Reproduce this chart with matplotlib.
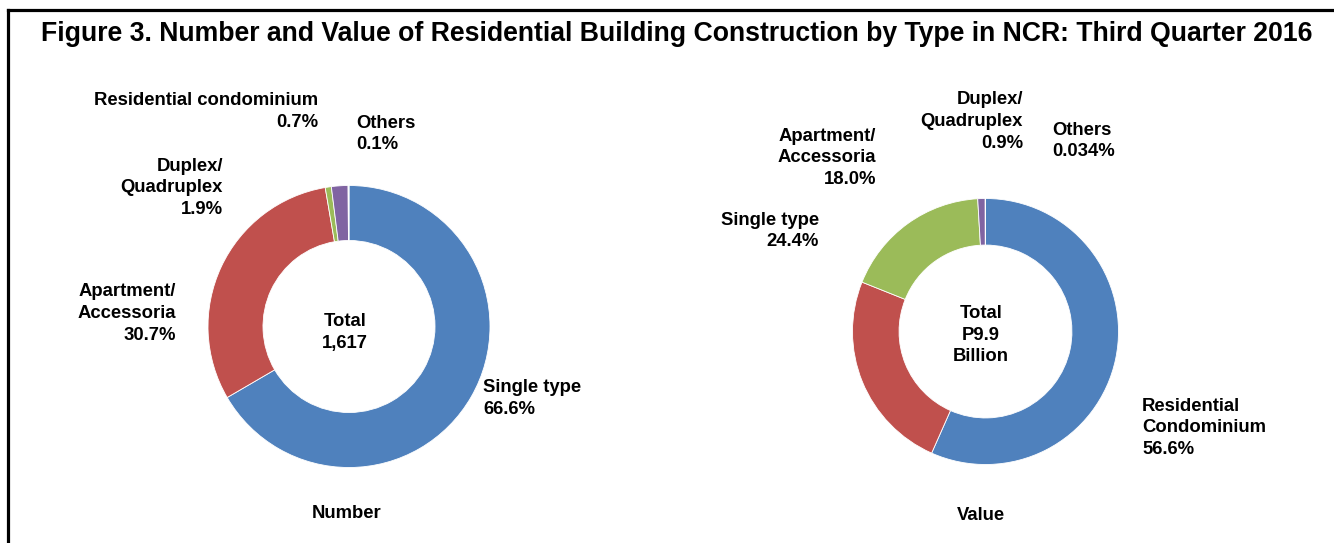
import matplotlib
matplotlib.use("Agg")
import matplotlib.pyplot as plt
from matplotlib.lines import Line2D

plt.rcParams['font.family'] = ['Liberation Sans', 'DejaVu Sans']
plt.rcParams['font.weight'] = 'bold'

W, H = 1334, 543

title = "Figure 3. Number and Value of Residential Building Construction by Type in NCR: Third Quarter 2016"

# Left chart: Number
num_categories = ["Single type", "Apartment/\nAccessoria", "Residential condominium",
                  "Duplex/\nQuadruplex", "Others"]
num_values = [66.6, 30.7, 0.7, 1.9, 0.1]
num_total = "Total\n1,617"
num_caption = "Number"

# Right chart: Value
val_categories = ["Residential\nCondominium", "Single type", "Apartment/\nAccessoria",
                  "Duplex/\nQuadruplex", "Others"]
val_values = [56.6, 24.4, 18.0, 0.9, 0.034]
val_total = "Total\nP9.9\nBillion"
val_caption = "Value"

colors = ["#4F81BD", "#C0504D", "#9BBB59", "#8064A2", "#4BACC6"]

fig = plt.figure(figsize=(W / 100, H / 100), dpi=100)
fig.patch.set_facecolor("white")


def fx(x):
    return x / W


def fy(y):
    return 1 - y / H


def donut(cx, cy, r, values, width):
    ax = fig.add_axes([fx(cx - r), fy(cy + r), 2 * r / W, 2 * r / H])
    ax.pie(values, colors=colors, startangle=90, counterclock=False, radius=1,
           wedgeprops=dict(width=width, edgecolor="white", linewidth=0.6))
    ax.set_xlim(-1, 1)
    ax.set_ylim(-1, 1)
    ax.set_aspect("equal")
    ax.set_axis_off()
    return ax


donut(349, 326.5, 141, num_values, 0.39)
donut(985.5, 331.5, 133, val_values, 0.35)

FS = 13.3
LS = 1.35
DY = 1.5


def label(x, y, s, ha):
    fig.text(fx(x), fy(y + DY), s, ha=ha, va="center", multialignment=ha,
             fontsize=FS, fontweight="bold", linespacing=LS, color="black")


def pct(v):
    return f"{v}%"


# Left labels positions (pixel layout)
left_pos = [(483, 397, "left"), (176, 312, "right"), (318, 110, "right"),
            (223, 186.5, "right"), (356, 132.5, "left")]
for cat, v, (x, y, ha) in zip(num_categories, num_values, left_pos):
    label(x, y, f"{cat}\n{pct(v)}", ha)

right_pos = [(1142, 426.5, "left"), (819, 229.5, "right"), (876, 156.5, "right"),
             (1023, 120, "right"), (1052, 139.5, "left")]
for cat, v, (x, y, ha) in zip(val_categories, val_values, right_pos):
    label(x, y, f"{cat}\n{pct(v)}", ha)

fig.text(fx(345), fy(331 + DY), num_total, ha="center", va="center", multialignment="center",
         fontsize=FS, fontweight="bold", linespacing=LS)
fig.text(fx(981), fy(333.5 + DY), val_total, ha="center", va="center", multialignment="center",
         fontsize=FS, fontweight="bold", linespacing=LS)

fig.text(fx(347), fy(514), num_caption, ha="center", va="center", fontsize=FS, fontweight="bold")
fig.text(fx(981), fy(516), val_caption, ha="center", va="center", fontsize=FS, fontweight="bold")

fig.text(fx(676.5), fy(34), title, ha="center", va="center", fontsize=19.2, fontweight="bold")

# Border (left and top)
fig.add_artist(Line2D([fx(7.5), fx(7.5)], [fy(H + 2), fy(9.5)], color="black", lw=2.3,
                      transform=fig.transFigure, solid_capstyle="projecting"))
fig.add_artist(Line2D([fx(7.5), fx(W + 2)], [fy(9.5), fy(9.5)], color="black", lw=2.3,
                      transform=fig.transFigure, solid_capstyle="projecting"))

fig.savefig("out.png", dpi=100, facecolor="white")
